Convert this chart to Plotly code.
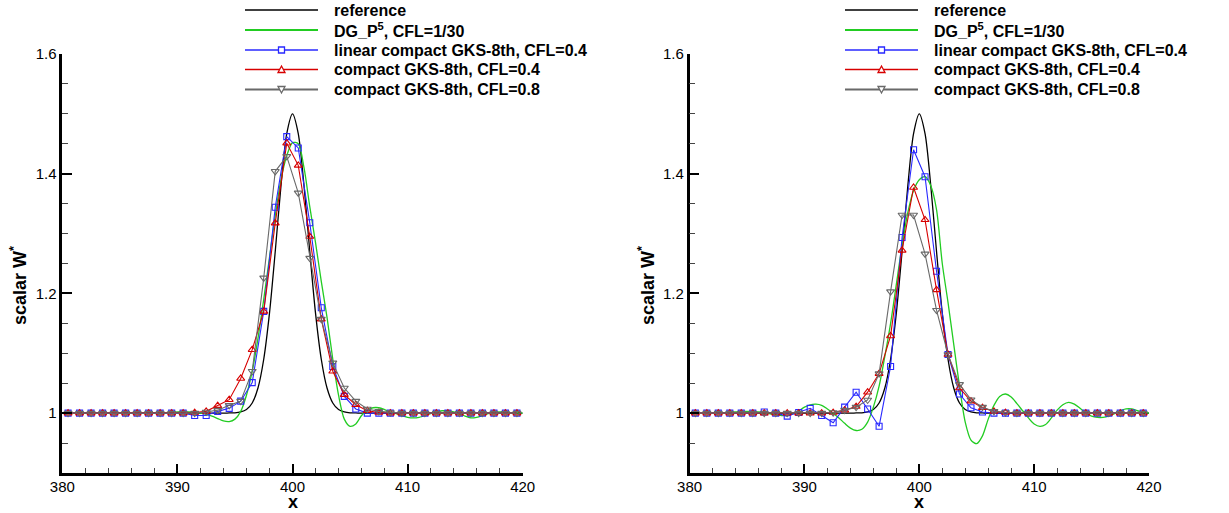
import plotly.graph_objects as go

# ---------------- data ----------------
grid_x = [380.5, 381.5, 382.5, 383.5, 384.5, 385.5, 386.5, 387.5, 388.5, 389.5,
          390.5, 391.5, 392.5, 393.5, 394.5, 395.5, 396.5, 397.5, 398.5, 399.5,
          400.5, 401.5, 402.5, 403.5, 404.5, 405.5, 406.5, 407.5, 408.5, 409.5,
          410.5, 411.5, 412.5, 413.5, 414.5, 415.5, 416.5, 417.5, 418.5, 419.5]

ref_x = [380, 385, 390, 393, 394, 394.5, 395, 395.5, 396, 396.5, 397, 397.5, 398,
         398.5, 399, 399.5, 400, 400.5, 401, 401.5, 402, 402.5, 403, 403.5, 404,
         404.5, 405, 405.5, 406, 407, 410, 415, 420]
ref_y = [1.0, 1.0, 1.0, 1.0, 1.0, 1.0003, 1.0005, 1.002, 1.006, 1.017, 1.042, 1.09,
         1.167, 1.27, 1.38, 1.467, 1.5, 1.467, 1.38, 1.27, 1.167, 1.09, 1.042, 1.017,
         1.006, 1.002, 1.0005, 1.0003, 1.0, 1.0, 1.0, 1.0, 1.0]

# Left panel
dg1_x = [380, 382, 384, 386, 388, 389, 390, 391, 392, 392.5, 393, 393.5, 394, 394.5,
         395, 395.5, 396, 396.5, 397, 397.5, 398, 398.5, 399, 399.5, 400, 400.5, 401,
         401.5, 402, 402.5, 403, 403.5, 404, 404.5, 405, 405.5, 406, 406.5, 407, 407.5,
         408, 408.5, 409, 409.5, 410, 410.5, 411, 412, 413, 413.5, 414, 415, 415.5,
         416, 417, 418, 419, 420]
dg1_y = [1.0, 1.0, 1.0, 1.0, 1.0, 1.001, 1.002, 1.002, 1.0, 0.998, 0.995, 0.991, 0.987,
         0.986, 0.99, 1.003, 1.03, 1.07, 1.125, 1.19, 1.26, 1.33, 1.39, 1.43, 1.452,
         1.45, 1.41, 1.345, 1.285, 1.22, 1.16, 1.09, 1.03, 0.99, 0.978, 0.982, 0.996,
         1.005, 1.009, 1.009, 1.006, 1.002, 0.999, 0.996, 0.993, 0.992, 0.993, 0.999,
         1.004, 1.004, 1.002, 0.995, 0.992, 0.993, 0.999, 1.002, 1.001, 1.0]

lin1_y = [1.0, 1.0, 1.0, 1.0, 1.0, 1.0, 1.0, 1.0, 1.0, 1.0,
          1.0, 0.996, 0.996, 1.003, 1.008, 1.02, 1.051, 1.17, 1.344, 1.462,
          1.443, 1.318, 1.176, 1.078, 1.028, 1.007, 1.0, 1.0, 1.0, 1.0,
          1.0, 1.0, 1.0, 1.0, 1.0, 1.0, 1.0, 1.0, 1.0, 1.0]
c04_1_y = [1.0, 1.0, 1.0, 1.0, 1.0, 1.0, 1.0, 1.0, 1.0, 1.0,
           1.0, 1.001, 1.003, 1.0125, 1.0225, 1.058, 1.106, 1.17, 1.3175, 1.451,
           1.414, 1.295, 1.157, 1.07, 1.031, 1.014, 1.004, 1.001, 1.0, 1.0,
           1.0, 1.0, 1.0, 1.0, 1.0, 1.0, 1.0, 1.0, 1.0, 1.0]
c08_1_y = [1.0, 1.0, 1.0, 1.0, 1.0, 1.0, 1.0, 1.0, 1.0, 1.0,
           1.0, 1.0, 1.002, 1.005, 1.013, 1.02, 1.07, 1.226, 1.404, 1.429,
           1.368, 1.259, 1.157, 1.084, 1.042, 1.02, 1.007, 1.003, 1.001, 1.0,
           1.0, 1.0, 1.0, 1.0, 1.0, 1.0, 1.0, 1.0, 1.0, 1.0]

# Right panel
dg2_x = [380, 381, 382, 383, 384, 385, 386, 387, 388, 388.5, 389, 389.5, 390, 390.5,
         391, 391.5, 392, 392.5, 393, 393.5, 394, 394.5, 395, 395.5, 396, 396.5, 397,
         397.5, 398, 398.5, 399, 399.5, 400, 400.5, 401, 401.5, 402, 402.5, 403, 403.5,
         404, 404.5, 405, 405.5, 406, 406.5, 407, 407.5, 408, 408.5, 409, 409.5, 410,
         410.5, 411, 411.5, 412, 412.5, 413, 413.5, 414, 414.5, 415, 415.5, 416, 416.5,
         417, 417.5, 418, 418.5, 419, 420]
dg2_y = [1.0, 1.0, 1.0, 1.001, 1.002, 1.003, 1.002, 0.999, 0.996, 0.996, 0.999, 1.004,
         1.01, 1.014, 1.015, 1.013, 1.007, 1.0, 0.992, 0.983, 0.975, 0.971, 0.973, 0.985,
         1.01, 1.045, 1.095, 1.15, 1.215, 1.28, 1.335, 1.372, 1.39, 1.395, 1.38, 1.34,
         1.25, 1.185, 1.115, 1.045, 0.985, 0.955, 0.949, 0.962, 0.99, 1.013, 1.028,
         1.032, 1.027, 1.016, 1.004, 0.992, 0.982, 0.978, 0.981, 0.992, 1.005, 1.014,
         1.018, 1.015, 1.008, 1.0, 0.995, 0.993, 0.993, 0.995, 0.999, 1.004, 1.007,
         1.007, 1.004, 1.0]

lin2_y = [1.0, 1.0, 1.0, 1.0, 1.0, 1.0, 1.002, 1.0, 0.995, 1.001,
          1.008, 0.996, 0.984, 1.01, 1.035, 1.007, 0.978, 1.078, 1.2935, 1.44,
          1.395, 1.237, 1.098, 1.032, 1.009, 1.002, 1.0, 1.0, 1.0, 1.0,
          1.0, 1.0, 1.0, 1.0, 1.0, 1.0, 1.0, 1.0, 1.0, 1.0]
c04_2_y = [1.0, 1.0, 1.0, 1.0, 1.0, 1.0, 1.0, 1.0, 1.0, 1.0,
           1.0, 1.0, 1.001, 1.005, 1.011, 1.035, 1.066, 1.129, 1.272, 1.377,
           1.323, 1.206, 1.098, 1.042, 1.02, 1.009, 1.003, 1.001, 1.0, 1.0,
           1.0, 1.0, 1.0, 1.0, 1.0, 1.0, 1.0, 1.0, 1.0, 1.0]
c08_2_y = [1.0, 1.0, 1.0, 1.0, 1.0, 1.0, 1.0, 1.0, 1.0, 1.0,
           1.0, 1.0, 1.001, 1.005, 1.01, 1.022, 1.066, 1.203, 1.331, 1.331,
           1.266, 1.172, 1.098, 1.048, 1.0225, 1.01, 1.003, 1.001, 1.0, 1.0,
           1.0, 1.0, 1.0, 1.0, 1.0, 1.0, 1.0, 1.0, 1.0, 1.0]

names = ["reference", "DG_P<sup>5</sup>, CFL=1/30",
         "linear compact GKS-8th, CFL=0.4", "compact GKS-8th, CFL=0.4",
         "compact GKS-8th, CFL=0.8"]
x_ticks = [380, 390, 400, 410, 420]
y_ticks = [1.0, 1.2, 1.4, 1.6]
y_ticktext = ["1", "1.2", "1.4", "1.6"]
x_title = "x"
y_title = "scalar W<sup>*</sup>"

# ---------------- styling ----------------
C_REF = "black"
C_DG = "#22cc22"
C_LIN = "rgb(40,40,255)"
C_C04 = "rgb(215,0,0)"
C_C08 = "rgb(105,105,105)"
COLORS = [C_REF, C_DG, C_LIN, C_C04, C_C08]
LEG_W = [1.3, 2.0, 1.3, 1.5, 2.0]
SYMS = [None, None, "square", "triangle-up", "triangle-down"]
FONT = "Liberation Sans, Arial, sans-serif"

W, H = 1229, 513
X_DOMS = [(62.3, 522.7), (689.6, 1149.0)]
Y_TOP, Y_BOT = 54.0, 473.0

fig = go.Figure()

panels = [
    dict(xa="x", ya="y", dg=(dg1_x, dg1_y), lin=lin1_y, c4=c04_1_y, c8=c08_1_y),
    dict(xa="x2", ya="y2", dg=(dg2_x, dg2_y), lin=lin2_y, c4=c04_2_y, c8=c08_2_y),
]
for p in panels:
    common = dict(xaxis=p["xa"], yaxis=p["ya"], showlegend=False)
    fig.add_trace(go.Scatter(x=ref_x, y=ref_y, mode="lines", name=names[0],
                             line=dict(color=C_REF, width=1.3, shape="spline", smoothing=0.8),
                             **common))
    fig.add_trace(go.Scatter(x=p["dg"][0], y=p["dg"][1], mode="lines", name=names[1],
                             line=dict(color=C_DG, width=1.3, shape="spline", smoothing=0.8),
                             **common))
    fig.add_trace(go.Scatter(x=grid_x, y=p["lin"], mode="lines+markers", name=names[2],
                             line=dict(color=C_LIN, width=1.1),
                             marker=dict(symbol="square-open", size=6, color=C_LIN,
                                         line=dict(width=1.1, color=C_LIN)),
                             **common))
    fig.add_trace(go.Scatter(x=grid_x, y=p["c4"], mode="lines+markers", name=names[3],
                             line=dict(color=C_C04, width=1.1),
                             marker=dict(symbol="triangle-up-open", size=7, color=C_C04,
                                         line=dict(width=1.1, color=C_C04)),
                             **common))
    fig.add_trace(go.Scatter(x=grid_x, y=p["c8"], mode="lines+markers", name=names[4],
                             line=dict(color=C_C08, width=1.1),
                             marker=dict(symbol="triangle-down-open", size=7, color=C_C08,
                                         line=dict(width=1.1, color=C_C08)),
                             **common))

def xax(dom, anchor):
    return dict(domain=[dom[0] / W, dom[1] / W], range=[380, 420], anchor=anchor,
                tickvals=x_ticks, ticks="inside", automargin=False, ticklabelstandoff=-2,
                ticklen=9, tickwidth=2, tickcolor="black", showline=True, linewidth=2.5,
                linecolor="black", showgrid=False, zeroline=False, mirror=False,
                tickfont=dict(family=FONT, size=15, color="black"),
                minor=dict(dtick=2, tick0=380, ticks="inside", ticklen=5, tickwidth=1,
                           tickcolor="#444", showgrid=False))

def yax(anchor):
    return dict(domain=[1 - Y_BOT / H, 1 - Y_TOP / H], range=[0.9, 1.6], anchor=anchor,
                tickvals=y_ticks, ticktext=y_ticktext, ticks="inside", automargin=False,
                ticklen=10, tickwidth=2, tickcolor="black", showline=True, linewidth=2.5,
                linecolor="black", showgrid=False, zeroline=False, mirror=False,
                tickfont=dict(family=FONT, size=15, color="black"),
                minor=dict(dtick=0.05, tick0=0.9, ticks="inside", ticklen=6, tickwidth=1,
                           tickcolor="#444", showgrid=False))

fig.update_layout(
    width=W, height=H, margin=dict(l=0, r=0, t=0, b=0, autoexpand=False),
    paper_bgcolor="white", plot_bgcolor="white",
    xaxis=xax(X_DOMS[0], "y"), xaxis2=xax(X_DOMS[1], "y2"),
    yaxis=yax("x"), yaxis2=yax("x2"),
    showlegend=False,
)

# axis titles
title_font = dict(family=FONT, size=18, color="black", weight="bold")
for (a, b) in X_DOMS:
    fig.add_annotation(text=x_title, x=(a + b) / 2 / W, y=0.0, xref="paper",
                       yref="paper", showarrow=False, font=title_font, borderpad=0,
                       xanchor="center", yanchor="bottom")
for xc in [18, 646]:
    fig.add_annotation(text=y_title, x=xc / W, y=1 - 286 / H, xref="paper",
                       yref="paper", showarrow=False, font=title_font, textangle=-90,
                       xanchor="center", yanchor="middle")

# legends (one per panel, drawn as line samples + glyphs + text)
LEG_ROWS = [10, 30, 50, 69.5, 89.5]
LEG_LINE_X = [(245, 318), (845, 918)]
LEG_TEXT_X = [332, 932]
leg_font = dict(family=FONT, size=16, color="black", weight="bold")
GLYPH = {
    "square": "M-3,-3 L3,-3 L3,3 L-3,3 Z",
    "triangle-up": "M-3.5,-3 L3.5,-3 L0,3.5 Z",
    "triangle-down": "M-3.5,3 L3.5,3 L0,-3.5 Z",
}
for (lx0, lx1), tx in zip(LEG_LINE_X, LEG_TEXT_X):
    for name, col, lw, sym, ry in zip(names, COLORS, LEG_W, SYMS, LEG_ROWS):
        yp = 1 - ry / H
        fig.add_shape(type="line", xref="paper", yref="paper", x0=lx0 / W, x1=lx1 / W,
                      y0=yp, y1=yp, line=dict(color=col, width=lw))
        if sym:
            fig.add_shape(type="path", xref="paper", yref="paper",
                          xsizemode="pixel", ysizemode="pixel",
                          xanchor=(lx0 + lx1) / 2 / W, yanchor=yp, path=GLYPH[sym],
                          line=dict(color=col, width=1.3), fillcolor="white")
        fig.add_annotation(text=name, x=tx / W, y=yp, xref="paper", yref="paper",
                           showarrow=False, font=leg_font, xanchor="left",
                           yanchor="middle")

fig.write_html("out.html")
